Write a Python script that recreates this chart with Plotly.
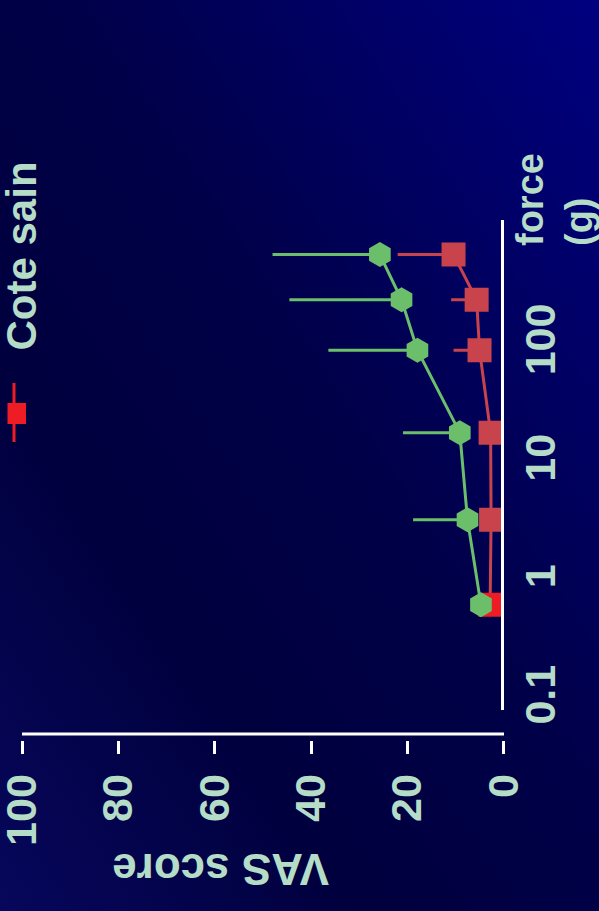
import base64
import plotly.graph_objects as go

# Stimulus force (g) and mean VAS scores with upper error bars
force_g = [0.65, 3.4, 18.5, 92, 245, 590]
vas_green = [4.7, 7.5, 9.1, 17.9, 21.2, 25.7]
err_green = [0, 11.3, 11.8, 18.5, 23.3, 22.3]
vas_red = [2.8, 2.6, 2.7, 5.0, 5.6, 10.4]
err_red = [0, 0, 0, 5.4, 5.3, 11.6]

vas_ticks = [0, 20, 40, 60, 80, 100]
force_ticks = [0.1, 1, 10, 100]
force_ticktext = ["0.1", "1", "10", "100"]

W, H = 599, 911
FONT = "Liberation Sans"
MINT = "#b4dcc6"
GREEN = "#6cbf6a"
RED = "#c9434c"
BRIGHT_RED = "#ee1c24"
WHITE = "#ffffff"


def px_x(p):
    return p / W


def px_y(p):
    return 1 - p / H


# diagonal navy gradient used as the page background
svg = (
    "<svg xmlns='http://www.w3.org/2000/svg' width='599' height='911' "
    "viewBox='0 0 599 911' preserveAspectRatio='none'>"
    "<defs><linearGradient id='g' x1='1' y1='0' x2='0' y2='1'>"
    "<stop offset='0' stop-color='#000080'/>"
    "<stop offset='0.45' stop-color='#000048'/>"
    "<stop offset='0.7' stop-color='#00003e'/>"
    "<stop offset='1' stop-color='#07075c'/>"
    "</linearGradient></defs>"
    "<rect width='599' height='911' fill='url(#g)'/></svg>"
)
bg_uri = "data:image/svg+xml;base64," + base64.b64encode(svg.encode()).decode()

fig = go.Figure()

fig.add_trace(go.Scatter(
    x=vas_red, y=force_g, mode="lines+markers",
    line=dict(color=RED, width=3),
    marker=dict(symbol="square", size=24,
                color=[BRIGHT_RED] + [RED] * (len(force_g) - 1),
                line=dict(width=0)),
    error_x=dict(type="data", symmetric=False, array=err_red,
                 arrayminus=[0] * len(err_red), color=RED,
                 thickness=3, width=0),
    showlegend=False,
))

fig.add_trace(go.Scatter(
    x=vas_green, y=force_g, mode="lines+markers",
    line=dict(color=GREEN, width=3),
    marker=dict(symbol="hexagon", size=25, color=GREEN, line=dict(width=0)),
    error_x=dict(type="data", symmetric=False, array=err_green,
                 arrayminus=[0] * len(err_green), color=GREEN,
                 thickness=3, width=0),
    showlegend=False,
))

tick_font = dict(family=FONT, size=43, color=MINT, weight="bold")

fig.update_layout(
    width=W, height=H,
    margin=dict(l=0, r=0, t=0, b=0, autoexpand=False),
    paper_bgcolor="#000046",
    plot_bgcolor="rgba(0,0,0,0)",
    showlegend=False,
    images=[dict(source=bg_uri, xref="paper", yref="paper", x=0, y=1,
                 sizex=1, sizey=1, sizing="stretch", layer="below",
                 xanchor="left", yanchor="top")],
    xaxis=dict(
        range=[100.2, 0], domain=[px_x(21.24), px_x(503.6)],
        anchor="free", position=px_y(740), automargin=False,
        showline=False, showgrid=False, zeroline=False,
        tickmode="array", tickvals=vas_ticks,
        ticks="outside", ticklen=13, tickwidth=3, tickcolor=WHITE,
        tickangle=-90, tickfont=tick_font, ticklabelstandoff=3,
        ticklabeloverflow="allow",
    ),
    yaxis=dict(
        type="log", range=[-1.075, 3.063], domain=[px_y(710), px_y(220)],
        anchor="free", position=px_x(501.7), side="right", automargin=False,
        showline=True, linecolor=WHITE, linewidth=3,
        showgrid=False, zeroline=False,
        tickmode="array", tickvals=force_ticks, ticktext=force_ticktext,
        ticks="", tickangle=-90, tickfont=tick_font, ticklabelstandoff=0,
        ticklabeloverflow="allow",
    ),
)

# VAS axis line, drawn slightly above its tick marks
fig.add_shape(type="line", xref="paper", yref="paper",
              x0=px_x(22), x1=px_x(504), y0=px_y(734), y1=px_y(734),
              line=dict(color=WHITE, width=3))

# legend key: red square on a vertical line
fig.add_shape(type="line", xref="paper", yref="paper",
              x0=px_x(14), x1=px_x(14), y0=px_y(383), y1=px_y(442),
              line=dict(color=BRIGHT_RED, width=3))
fig.add_shape(type="rect", xref="paper", yref="paper",
              x0=px_x(7.5), x1=px_x(26), y0=px_y(403), y1=px_y(424),
              line=dict(width=0), fillcolor=BRIGHT_RED)

fig.add_annotation(text="Cote sain", textangle=-90, showarrow=False,
                   xref="paper", yref="paper", x=px_x(-5), y=px_y(256),
                   xanchor="left", yanchor="middle",
                   font=dict(family=FONT, size=42, color=MINT, weight="bold"))

fig.add_annotation(text="VAS score", textangle=180, showarrow=False,
                   xref="paper", yref="paper", x=px_x(220), y=px_y(870),
                   xanchor="center", yanchor="middle",
                   font=dict(family=FONT, size=44, color=MINT, weight="bold"))

fig.add_annotation(text="force<br>(g)", textangle=-90, showarrow=False,
                   align="left",
                   xref="paper", yref="paper", x=px_x(555), y=px_y(200),
                   xanchor="center", yanchor="middle",
                   font=dict(family=FONT, size=38, color=MINT, weight="bold"))

fig.write_html("out.html")
